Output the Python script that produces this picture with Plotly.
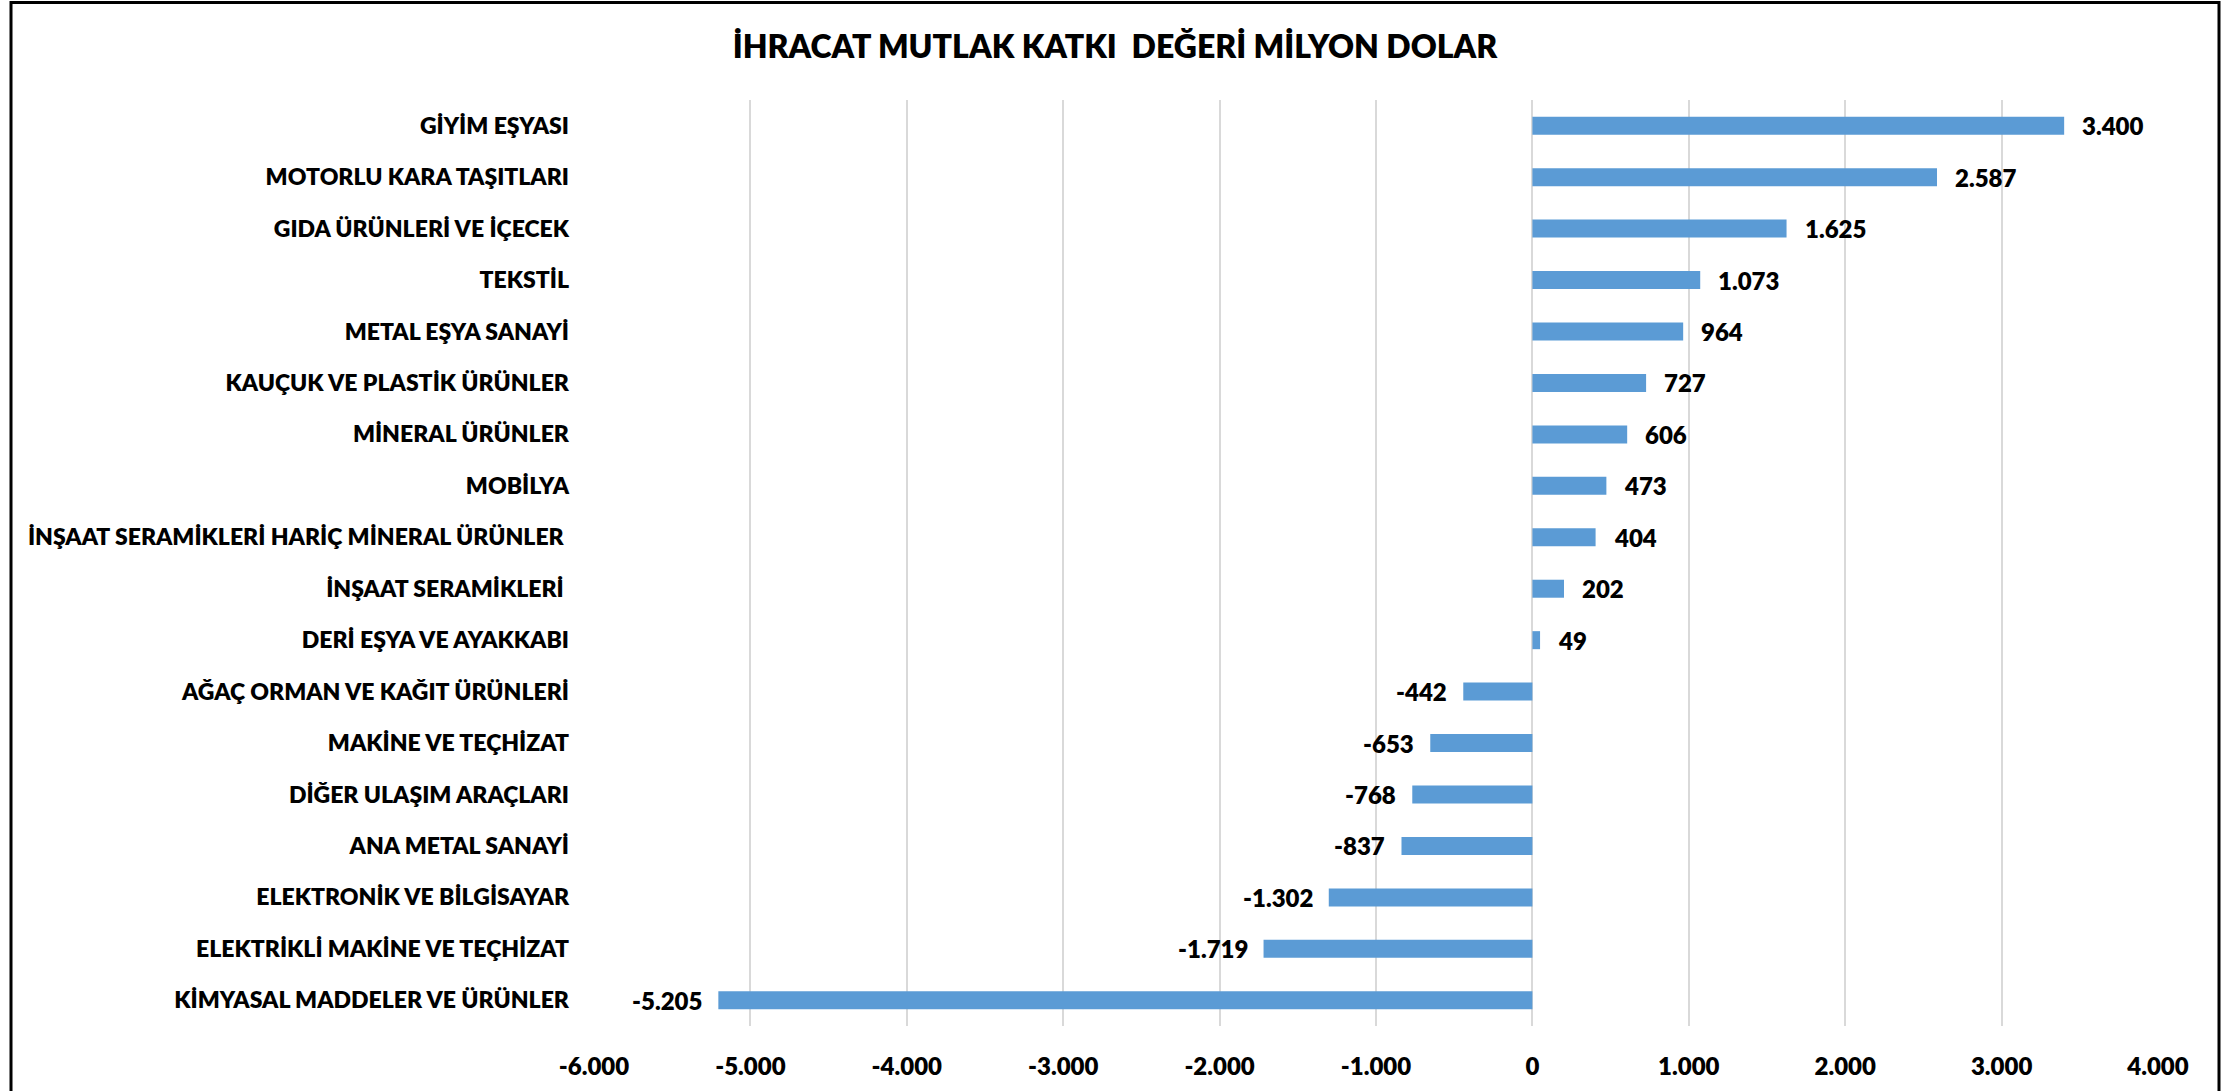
import plotly.graph_objects as go

categories = [
    "GİYİM EŞYASI",
    "MOTORLU KARA TAŞITLARI",
    "GIDA ÜRÜNLERİ VE İÇECEK",
    "TEKSTİL",
    "METAL EŞYA SANAYİ",
    "KAUÇUK VE PLASTİK ÜRÜNLER",
    "MİNERAL ÜRÜNLER",
    "MOBİLYA",
    "İNŞAAT SERAMİKLERİ HARİÇ MİNERAL ÜRÜNLER ",
    "İNŞAAT SERAMİKLERİ ",
    "DERİ EŞYA VE AYAKKABI",
    "AĞAÇ ORMAN VE KAĞIT ÜRÜNLERİ",
    "MAKİNE VE TEÇHİZAT",
    "DİĞER ULAŞIM ARAÇLARI",
    "ANA METAL SANAYİ",
    "ELEKTRONİK VE BİLGİSAYAR",
    "ELEKTRİKLİ MAKİNE VE TEÇHİZAT",
    "KİMYASAL MADDELER VE ÜRÜNLER",
]
values = [3400, 2587, 1625, 1073, 964, 727, 606, 473, 404, 202, 49,
          -442, -653, -768, -837, -1302, -1719, -5205]
tick_values = [-6000, -5000, -4000, -3000, -2000, -1000, 0, 1000, 2000, 3000, 4000]

title_text = "İHRACAT MUTLAK KATKI  DEĞERİ MİLYON DOLAR"

FONT = "Lato"
WEIGHT = 800
W, H = 2239, 1091
ML, MR, MT, MB = 594, 81, 100, 65

def fmt(v):
    return f"{v:,}".replace(",", ".")

fig = go.Figure()
fig.add_trace(go.Bar(
    x=values, y=categories, orientation="h",
    marker=dict(color="#5B9BD5", line=dict(width=0)),
    width=0.35,
    hoverinfo="x+y",
))

for c, v in zip(categories, values):
    fig.add_annotation(
        x=v, y=c, xref="x", yref="y",
        text=fmt(v), showarrow=False,
        xanchor="left" if v >= 0 else "right",
        xshift=16 if v >= 0 else -14,
        font=dict(family=FONT, size=24, color="#000000", weight=WEIGHT),
    )

# outer frame
pw = W - ML - MR
ph = H - MT - MB
fig.add_shape(
    type="rect", xref="paper", yref="paper",
    x0=(11 - ML) / pw, x1=(2219 - ML) / pw,
    y0=(H - MB - 1100) / ph, y1=(H - MB - 2.5) / ph,
    line=dict(color="#000000", width=3), layer="below",
)

fig.update_layout(
    width=W, height=H,
    margin=dict(l=ML, r=MR, t=MT, b=MB, pad=0),
    paper_bgcolor="white", plot_bgcolor="white",
    separators=",.",
    showlegend=False,
    bargap=0.65,
    title=dict(
        text=title_text, x=0.498, xanchor="center", y=1 - 47 / H, yanchor="middle",
        font=dict(family=FONT, size=32, color="#000000", weight=WEIGHT),
    ),
    font=dict(family=FONT, color="#000000"),
    xaxis=dict(
        range=[-6000, 4000], tickvals=tick_values,
        ticktext=[fmt(t) for t in tick_values],
        showgrid=True, gridcolor="#D9D9D9", gridwidth=2,
        zeroline=True, zerolinecolor="#D9D9D9", zerolinewidth=2,
        showline=False, ticks="", ticklabelstandoff=24,
        tickfont=dict(family=FONT, size=24, color="#000000", weight=WEIGHT),
    ),
    yaxis=dict(
        autorange="reversed", showgrid=False, zeroline=False, showline=False,
        ticks="", ticklabelstandoff=24,
        tickfont=dict(family=FONT, size=23, color="#000000", weight=WEIGHT),
    ),
)

fig.write_html("out.html", config={"displayModeBar": False},
               post_script="document.body.style.margin='0px';")
